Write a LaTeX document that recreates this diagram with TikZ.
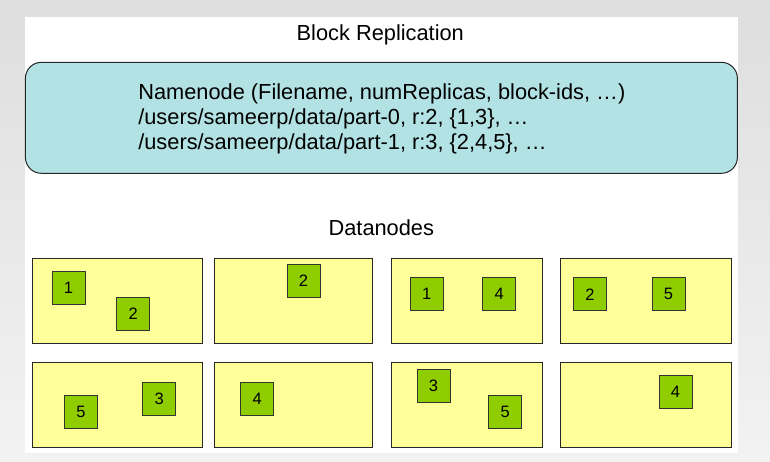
\documentclass[tikz,border=0pt]{standalone}
\usepackage{fontspec}
\setmainfont{Liberation Sans}

\definecolor{namefill}{HTML}{B3E2E4}
\definecolor{datafill}{HTML}{FFFF99}
\definecolor{blockfill}{HTML}{8FCC00}

\begin{document}
\begin{tikzpicture}[
            x = 1pt, y = -1pt, % one unit per pixel, y going down
            font = \fontsize{21.8}{25}\selectfont, % text style
            semithick % line style
        ]

        \tikzstyle{namebox}=[
            draw = black!85,
            line width = 1pt,
            fill = namefill,
            rounded corners = 16pt,
            minimum width = 712pt,
            minimum height = 111pt,
            align = left
        ]
        \tikzstyle{datanode}=[
            draw = black!85,
            line width = 1pt,
            fill = datafill,
            minimum height = 85pt
        ]
        \tikzstyle{block}=[
            draw = black!80,
            line width = 1pt,
            fill = blockfill,
            minimum size = 33pt,
            inner sep = 0pt,
            font = \fontsize{16.5}{18}\selectfont
        ]

        % background and panel
        \shade[top color = black!13, bottom color = black!5] (0,0) rectangle (770,461);
        \fill[white] (25,17) rectangle (738,453);

        \node (title) [anchor=base] at (380.3,40) {Block Replication};
        \node (namenode) [namebox] at (381.4,117.8) {};
        \node (nametext) [anchor=west, align=left, inner sep=0pt] at (138,118.5) {Namenode (Filename, numReplicas, block-ids, \dots)\\
            /users/sameerp/data/part-0, r:2, \{1,3\}, \dots\\
            /users/sameerp/data/part-1, r:3, \{2,4,5\}, \dots};
        \node (dlabel) [anchor=base] at (381.3,235) {Datanodes};

        % datanodes, top row
        \node (d11) [datanode, minimum width=170pt] at (117,300.5) {};
        \node (d12) [datanode, minimum width=158pt] at (293,300.5) {};
        \node (d13) [datanode, minimum width=151pt] at (466.5,300.5) {};
        \node (d14) [datanode, minimum width=171pt] at (645.5,300.5) {};
        % datanodes, bottom row
        \node (d21) [datanode, minimum width=170pt] at (117,405) {};
        \node (d22) [datanode, minimum width=158pt] at (293,405) {};
        \node (d23) [datanode, minimum width=151pt] at (466.5,405) {};
        \node (d24) [datanode, minimum width=171pt] at (645.5,405) {};

        % blocks
        \node (b11a) [block] at (68.5,287.7) {1};
        \node (b11b) [block] at (133.2,313.8) {2};
        \node (b12a) [block] at (303.5,281) {2};
        \node (b13a) [block] at (426.8,294.3) {1};
        \node (b13b) [block] at (499.3,294.3) {4};
        \node (b14a) [block] at (590,294.3) {2};
        \node (b14b) [block] at (668.5,294.3) {5};
        \node (b21a) [block] at (81,411.8) {5};
        \node (b21b) [block] at (159.3,398.8) {3};
        \node (b22a) [block] at (257.2,398.8) {4};
        \node (b23a) [block] at (433.5,385.5) {3};
        \node (b23b) [block] at (505.2,411.8) {5};
        \node (b24a) [block] at (675.5,392) {4};

    \end{tikzpicture}
\end{document}
